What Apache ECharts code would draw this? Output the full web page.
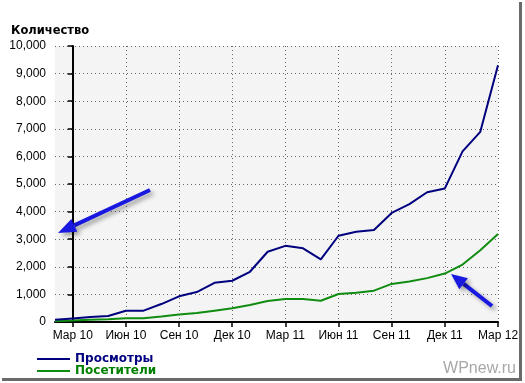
<!DOCTYPE html>
<html>
<head>
<meta charset="utf-8">
<script src="https://cdn.jsdelivr.net/npm/echarts@6/dist/echarts.min.js"></script>
<style>html,body{margin:0;padding:0;background:#fff}#c{width:525px;height:383px}</style>
</head>
<body>
<div id="c"></div>
<script>
// month index: 0 = Mar 2010, -1 = Feb 2010, 24 = Mar 2012
const months = [-1,0,1,2,3,4,5,6,7,8,9,10,11,12,13,14,15,16,17,18,19,20,21,22,23,24];
const views = [80,130,180,220,410,410,650,930,1085,1420,1495,1820,2545,2760,2670,2270,3125,3270,3330,3950,4270,4700,4840,6180,6890,9300];
const visitors = [30,50,80,100,135,135,200,275,325,410,495,615,760,830,830,770,1015,1060,1135,1380,1465,1590,1755,2080,2600,3185];
const tickValues = [0,3,6,9,12,15,18,21,24];
const tickLabels = ['Мар 10','Июн 10','Сен 10','Дек 10','Мар 11','Июн 11','Сен 11','Дек 11','Мар 12'];
const seriesNames = ['Просмотры','Посетители'];
const titleText = 'Количество';

const chart = echarts.init(document.getElementById('c'), null, {renderer:'canvas'});
const pair = (xs, ys) => xs.map((x,i)=>[x, ys[i]]);

function arrow(tail, tip, len, half) {
  const dx = tip[0]-tail[0], dy = tip[1]-tail[1];
  const L = Math.hypot(dx,dy), ux = dx/L, uy = dy/L;
  const bx = tip[0]-ux*len, by = tip[1]-uy*len;
  const px = -uy*half, py = ux*half;
  const shadow = {shadowColor:'rgba(0,0,0,0.35)', shadowBlur:4, shadowOffsetX:3, shadowOffsetY:3};
  return [
    {type:'line', shape:{x1:tail[0],y1:tail[1],x2:bx,y2:by}, style:Object.assign({stroke:'#1818e0', lineWidth:4}, shadow), z:100},
    {type:'polygon', shape:{points:[[tip[0],tip[1]],[bx+px,by+py],[bx-px,by-py]]}, style:Object.assign({fill:'#1818e0'}, shadow), z:100}
  ];
}

chart.setOption({
  animation:false,
  backgroundColor:'#ffffff',
  title:{text:titleText, left:6, top:20, textStyle:{fontFamily:'DejaVu Sans', fontSize:11.5, fontWeight:'bold', color:'#000'}},
  grid:{left:55, right:27, top:46, bottom:61, show:true, backgroundColor:'#f4f4f4', borderWidth:0},
  legend:{
    orient:'vertical', left:37, top:353, padding:0, itemGap:0, itemWidth:33, itemHeight:2, icon:'rect',
    textStyle:{fontFamily:'DejaVu Sans', fontSize:12, fontWeight:'bold', lineHeight:12},
    data:[
      {name:seriesNames[0], textStyle:{color:'#000080'}},
      {name:seriesNames[1], textStyle:{color:'#008000'}}
    ]
  },
  xAxis:{
    type:'value', min:-1, max:24,
    axisLine:{show:true, onZero:false, lineStyle:{color:'#000', width:2}},
    axisTick:{show:true, length:5, customValues:tickValues, lineStyle:{color:'#000', width:1.5}},
    axisLabel:{customValues:tickValues, margin:8, fontFamily:'Liberation Sans', fontSize:12, color:'#000',
      formatter:(v)=>tickLabels[tickValues.indexOf(Math.round(v))] || ''},
    splitLine:{show:true, lineStyle:{type:[1,3], color:'#666', width:1}}
  },
  yAxis:{
    type:'value', min:0, max:10000, interval:1000,
    axisLine:{show:true, lineStyle:{color:'#000', width:2}},
    axisTick:{show:true, length:5, lineStyle:{color:'#000', width:1.5}},
    axisLabel:{margin:9, fontFamily:'Liberation Sans', fontSize:12, color:'#000',
      formatter:(v)=>v.toLocaleString('en-US')},
    splitLine:{show:true, lineStyle:{type:[1,3], color:'#666', width:1}}
  },
  series:[
    {name:seriesNames[0], type:'line', data:pair(months, views), symbol:'none', lineStyle:{color:'#00007f', width:2}, itemStyle:{color:'#00007f'}, z:3},
    {name:seriesNames[1], type:'line', data:pair(months, visitors), symbol:'none', lineStyle:{color:'#108c10', width:2}, itemStyle:{color:'#108c10'}, z:2}
  ],
  graphic:[
    {type:'text', right:9, top:361, style:{text:'WPnew.ru', fontFamily:'Liberation Sans', fontSize:16, fill:'#a8a8a8'}},
    {type:'rect', shape:{x:519, y:2, width:3, height:379}, style:{fill:'#6a6a6a'}, z:50},
    {type:'rect', shape:{x:2, y:378, width:520, height:3}, style:{fill:'#6a6a6a'}, z:50}
  ].concat(arrow([150,190],[58,233],18,7)).concat(arrow([492,306],[451,274],16,7))
});
</script>
</body>
</html>
